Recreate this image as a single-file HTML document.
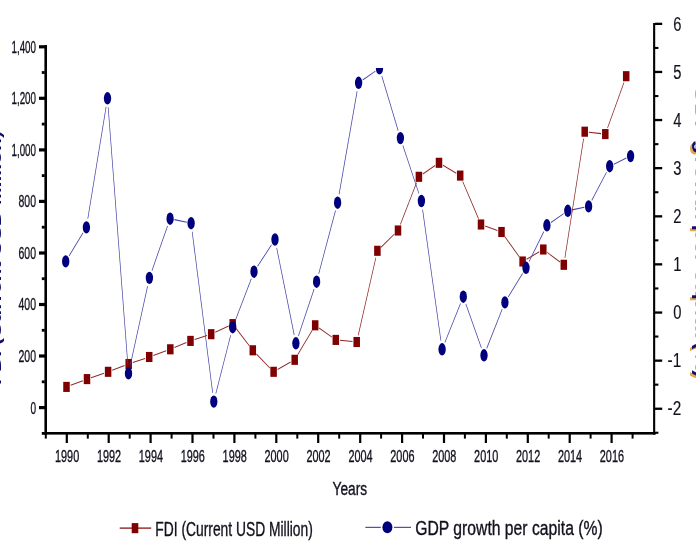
<!DOCTYPE html>
<html lang="en"><head><meta charset="utf-8"><title>FDI and GDP growth per capita</title>
<style>
html,body{margin:0;padding:0;background:#fff;}
body{width:696px;height:552px;overflow:hidden;position:relative;font-family:"Liberation Sans",sans-serif;}
svg text{font-family:"Liberation Sans",sans-serif;}
</style></head><body>
<svg width="696" height="552" viewBox="0 0 696 552" style="position:absolute;left:0;top:0;font-family:'Liberation Sans',sans-serif">
<defs><filter id="bl" x="-5%" y="-5%" width="110%" height="110%"><feGaussianBlur stdDeviation="0.6 0.1"/></filter><clipPath id="cp"><rect x="46" y="68" width="609" height="366"/></clipPath></defs>
<g clip-path="url(#cp)">
<g transform="scale(0.65,1)" filter="url(#bl)">
<line x1="108.62" y1="385.34" x2="127.53" y2="380.66" stroke="#8a2424" stroke-width="1.05"/>
<line x1="140.18" y1="377.67" x2="159.97" y2="373.23" stroke="#8a2424" stroke-width="1.05"/>
<line x1="172.62" y1="370.25" x2="191.69" y2="365.55" stroke="#8a2424" stroke-width="1.05"/>
<line x1="204.34" y1="362.59" x2="223.20" y2="358.41" stroke="#8a2424" stroke-width="1.05"/>
<line x1="235.86" y1="355.50" x2="255.68" y2="350.80" stroke="#8a2424" stroke-width="1.05"/>
<line x1="268.28" y1="347.60" x2="286.79" y2="342.60" stroke="#8a2424" stroke-width="1.05"/>
<line x1="299.43" y1="339.56" x2="318.57" y2="335.54" stroke="#8a2424" stroke-width="1.05"/>
<line x1="331.16" y1="332.30" x2="351.76" y2="326.00" stroke="#8a2424" stroke-width="1.05"/>
<line x1="363.17" y1="328.48" x2="383.75" y2="345.92" stroke="#8a2424" stroke-width="1.05"/>
<line x1="394.48" y1="354.03" x2="415.37" y2="368.07" stroke="#8a2424" stroke-width="1.05"/>
<line x1="427.06" y1="369.53" x2="447.24" y2="362.07" stroke="#8a2424" stroke-width="1.05"/>
<line x1="458.03" y1="354.72" x2="480.28" y2="330.38" stroke="#8a2424" stroke-width="1.05"/>
<line x1="490.91" y1="328.06" x2="510.63" y2="337.14" stroke="#8a2424" stroke-width="1.05"/>
<line x1="523.07" y1="340.32" x2="542.32" y2="341.58" stroke="#8a2424" stroke-width="1.05"/>
<line x1="551.14" y1="335.21" x2="578.24" y2="257.59" stroke="#8a2424" stroke-width="1.05"/>
<line x1="586.24" y1="247.20" x2="606.69" y2="234.10" stroke="#8a2424" stroke-width="1.05"/>
<line x1="615.93" y1="224.45" x2="640.84" y2="182.85" stroke="#8a2424" stroke-width="1.05"/>
<line x1="650.46" y1="174.08" x2="669.39" y2="165.52" stroke="#8a2424" stroke-width="1.05"/>
<line x1="681.49" y1="165.20" x2="701.90" y2="173.20" stroke="#8a2424" stroke-width="1.05"/>
<line x1="711.84" y1="181.47" x2="736.16" y2="218.63" stroke="#8a2424" stroke-width="1.05"/>
<line x1="746.32" y1="226.00" x2="765.22" y2="230.50" stroke="#8a2424" stroke-width="1.05"/>
<line x1="776.57" y1="236.58" x2="798.97" y2="256.92" stroke="#8a2424" stroke-width="1.05"/>
<line x1="810.13" y1="259.19" x2="829.72" y2="251.81" stroke="#8a2424" stroke-width="1.05"/>
<line x1="841.78" y1="252.38" x2="861.45" y2="261.92" stroke="#8a2424" stroke-width="1.05"/>
<line x1="869.09" y1="257.76" x2="897.84" y2="138.74" stroke="#8a2424" stroke-width="1.05"/>
<line x1="905.99" y1="132.19" x2="924.78" y2="133.61" stroke="#8a2424" stroke-width="1.05"/>
<line x1="934.66" y1="127.92" x2="959.95" y2="82.38" stroke="#8a2424" stroke-width="1.05"/>
</g>
<rect x="63.25" y="381.85" width="6.5" height="10.1" fill="#7f0000"/>
<rect x="83.75" y="374.05" width="6.5" height="10.1" fill="#7f0000"/>
<rect x="104.85" y="366.75" width="6.5" height="10.1" fill="#7f0000"/>
<rect x="125.45" y="358.95" width="6.5" height="10.1" fill="#7f0000"/>
<rect x="145.95" y="351.95" width="6.5" height="10.1" fill="#7f0000"/>
<rect x="167.05" y="344.25" width="6.5" height="10.1" fill="#7f0000"/>
<rect x="187.25" y="335.85" width="6.5" height="10.1" fill="#7f0000"/>
<rect x="207.95" y="329.15" width="6.5" height="10.1" fill="#7f0000"/>
<rect x="229.45" y="319.05" width="6.5" height="10.1" fill="#7f0000"/>
<rect x="249.55" y="345.25" width="6.5" height="10.1" fill="#7f0000"/>
<rect x="270.35" y="366.75" width="6.5" height="10.1" fill="#7f0000"/>
<rect x="291.45" y="354.75" width="6.5" height="10.1" fill="#7f0000"/>
<rect x="311.95" y="320.25" width="6.5" height="10.1" fill="#7f0000"/>
<rect x="332.55" y="334.85" width="6.5" height="10.1" fill="#7f0000"/>
<rect x="353.45" y="336.95" width="6.5" height="10.1" fill="#7f0000"/>
<rect x="374.15" y="245.75" width="6.5" height="10.1" fill="#7f0000"/>
<rect x="394.75" y="225.45" width="6.5" height="10.1" fill="#7f0000"/>
<rect x="415.65" y="171.75" width="6.5" height="10.1" fill="#7f0000"/>
<rect x="435.75" y="157.75" width="6.5" height="10.1" fill="#7f0000"/>
<rect x="456.95" y="170.55" width="6.5" height="10.1" fill="#7f0000"/>
<rect x="477.75" y="219.45" width="6.5" height="10.1" fill="#7f0000"/>
<rect x="498.25" y="226.95" width="6.5" height="10.1" fill="#7f0000"/>
<rect x="519.35" y="256.45" width="6.5" height="10.1" fill="#7f0000"/>
<rect x="540.05" y="244.45" width="6.5" height="10.1" fill="#7f0000"/>
<rect x="560.55" y="259.75" width="6.5" height="10.1" fill="#7f0000"/>
<rect x="581.45" y="126.65" width="6.5" height="10.1" fill="#7f0000"/>
<rect x="602.05" y="129.05" width="6.5" height="10.1" fill="#7f0000"/>
<rect x="622.95" y="71.15" width="6.5" height="10.1" fill="#7f0000"/>
<g transform="scale(0.65,1)" filter="url(#bl)">
<line x1="106.28" y1="255.84" x2="127.72" y2="232.96" stroke="#4040a6" stroke-width="1.05"/>
<line x1="135.06" y1="218.88" x2="163.24" y2="106.82" stroke="#4040a6" stroke-width="1.05"/>
<line x1="166.43" y1="107.19" x2="196.65" y2="364.51" stroke="#4040a6" stroke-width="1.05"/>
<line x1="200.45" y1="365.22" x2="227.09" y2="286.08" stroke="#4040a6" stroke-width="1.05"/>
<line x1="233.75" y1="270.64" x2="257.79" y2="225.96" stroke="#4040a6" stroke-width="1.05"/>
<line x1="268.27" y1="219.62" x2="287.42" y2="222.28" stroke="#4040a6" stroke-width="1.05"/>
<line x1="295.70" y1="231.90" x2="327.22" y2="392.90" stroke="#4040a6" stroke-width="1.05"/>
<line x1="332.03" y1="393.65" x2="354.89" y2="335.15" stroke="#4040a6" stroke-width="1.05"/>
<line x1="362.14" y1="320.18" x2="386.63" y2="278.72" stroke="#4040a6" stroke-width="1.05"/>
<line x1="396.11" y1="266.38" x2="417.74" y2="244.82" stroke="#4040a6" stroke-width="1.05"/>
<line x1="425.65" y1="247.79" x2="452.66" y2="335.01" stroke="#4040a6" stroke-width="1.05"/>
<line x1="459.04" y1="335.94" x2="483.27" y2="289.06" stroke="#4040a6" stroke-width="1.05"/>
<line x1="490.29" y1="273.84" x2="516.17" y2="210.56" stroke="#4040a6" stroke-width="1.05"/>
<line x1="521.66" y1="194.25" x2="549.42" y2="91.25" stroke="#4040a6" stroke-width="1.05"/>
<line x1="557.97" y1="79.97" x2="577.57" y2="71.13" stroke="#4040a6" stroke-width="1.05"/>
<line x1="587.36" y1="75.93" x2="612.49" y2="130.47" stroke="#4040a6" stroke-width="1.05"/>
<line x1="619.79" y1="145.48" x2="644.52" y2="193.62" stroke="#4040a6" stroke-width="1.05"/>
<line x1="650.16" y1="209.64" x2="678.30" y2="340.66" stroke="#4040a6" stroke-width="1.05"/>
<line x1="684.42" y1="342.42" x2="708.50" y2="303.58" stroke="#4040a6" stroke-width="1.05"/>
<line x1="716.70" y1="303.94" x2="740.68" y2="348.06" stroke="#4040a6" stroke-width="1.05"/>
<line x1="748.83" y1="348.36" x2="772.55" y2="309.34" stroke="#4040a6" stroke-width="1.05"/>
<line x1="781.98" y1="296.85" x2="804.02" y2="273.35" stroke="#4040a6" stroke-width="1.05"/>
<line x1="813.98" y1="261.53" x2="836.64" y2="231.57" stroke="#4040a6" stroke-width="1.05"/>
<line x1="847.66" y1="222.47" x2="867.26" y2="213.63" stroke="#4040a6" stroke-width="1.05"/>
<line x1="880.12" y1="209.89" x2="898.96" y2="207.31" stroke="#4040a6" stroke-width="1.05"/>
<line x1="910.43" y1="200.34" x2="933.11" y2="172.26" stroke="#4040a6" stroke-width="1.05"/>
<line x1="944.45" y1="164.18" x2="963.71" y2="158.12" stroke="#4040a6" stroke-width="1.05"/>
</g>
<ellipse cx="65.7" cy="261.4" rx="3.65" ry="6.2" fill="#00007f"/>
<ellipse cx="86.4" cy="227.4" rx="3.65" ry="6.2" fill="#00007f"/>
<ellipse cx="107.5" cy="98.3" rx="3.65" ry="6.2" fill="#00007f"/>
<ellipse cx="128.5" cy="373.4" rx="3.65" ry="6.2" fill="#00007f"/>
<ellipse cx="149.4" cy="277.9" rx="3.65" ry="6.2" fill="#00007f"/>
<ellipse cx="170.1" cy="218.7" rx="3.65" ry="6.2" fill="#00007f"/>
<ellipse cx="191.1" cy="223.2" rx="3.65" ry="6.2" fill="#00007f"/>
<ellipse cx="213.8" cy="401.6" rx="3.65" ry="6.2" fill="#00007f"/>
<ellipse cx="232.7" cy="327.2" rx="3.65" ry="6.2" fill="#00007f"/>
<ellipse cx="254.0" cy="271.7" rx="3.65" ry="6.2" fill="#00007f"/>
<ellipse cx="275.0" cy="239.5" rx="3.65" ry="6.2" fill="#00007f"/>
<ellipse cx="295.9" cy="343.3" rx="3.65" ry="6.2" fill="#00007f"/>
<ellipse cx="316.6" cy="281.7" rx="3.65" ry="6.2" fill="#00007f"/>
<ellipse cx="337.6" cy="202.7" rx="3.65" ry="6.2" fill="#00007f"/>
<ellipse cx="358.6" cy="82.8" rx="3.65" ry="6.2" fill="#00007f"/>
<ellipse cx="379.5" cy="68.3" rx="3.65" ry="6.2" fill="#00007f"/>
<ellipse cx="400.4" cy="138.1" rx="3.65" ry="6.2" fill="#00007f"/>
<ellipse cx="421.4" cy="201.0" rx="3.65" ry="6.2" fill="#00007f"/>
<ellipse cx="442.1" cy="349.3" rx="3.65" ry="6.2" fill="#00007f"/>
<ellipse cx="463.3" cy="296.7" rx="3.65" ry="6.2" fill="#00007f"/>
<ellipse cx="484.0" cy="355.3" rx="3.65" ry="6.2" fill="#00007f"/>
<ellipse cx="504.9" cy="302.4" rx="3.65" ry="6.2" fill="#00007f"/>
<ellipse cx="526.0" cy="267.8" rx="3.65" ry="6.2" fill="#00007f"/>
<ellipse cx="546.9" cy="225.3" rx="3.65" ry="6.2" fill="#00007f"/>
<ellipse cx="567.8" cy="210.8" rx="3.65" ry="6.2" fill="#00007f"/>
<ellipse cx="588.6" cy="206.4" rx="3.65" ry="6.2" fill="#00007f"/>
<ellipse cx="609.7" cy="166.2" rx="3.65" ry="6.2" fill="#00007f"/>
<ellipse cx="630.6" cy="156.1" rx="3.65" ry="6.2" fill="#00007f"/>
</g>
<rect x="44.4" y="45" width="2.6" height="389.6" fill="#000"/>
<rect x="44.4" y="432" width="611.2" height="2.6" fill="#000"/>
<rect x="653.1" y="23" width="2.1" height="411.6" fill="#000"/>
<rect x="39" y="406.0" width="6" height="3.2" fill="#000"/>
<rect x="39" y="354.4" width="6" height="3.2" fill="#000"/>
<rect x="39" y="302.9" width="6" height="3.2" fill="#000"/>
<rect x="39" y="251.4" width="6" height="3.2" fill="#000"/>
<rect x="39" y="199.8" width="6" height="3.2" fill="#000"/>
<rect x="39" y="148.3" width="6" height="3.2" fill="#000"/>
<rect x="39" y="96.7" width="6" height="3.2" fill="#000"/>
<rect x="39" y="45.2" width="6" height="3.2" fill="#000"/>
<rect x="41.8" y="432.0" width="3" height="2.8" fill="#000"/>
<rect x="41.8" y="380.4" width="3" height="2.8" fill="#000"/>
<rect x="41.8" y="328.9" width="3" height="2.8" fill="#000"/>
<rect x="41.8" y="277.3" width="3" height="2.8" fill="#000"/>
<rect x="41.8" y="225.8" width="3" height="2.8" fill="#000"/>
<rect x="41.8" y="174.2" width="3" height="2.8" fill="#000"/>
<rect x="41.8" y="122.7" width="3" height="2.8" fill="#000"/>
<rect x="41.8" y="71.1" width="3" height="2.8" fill="#000"/>
<rect x="655" y="407.6" width="7.2" height="2.3" fill="#000"/>
<rect x="655" y="359.5" width="7.2" height="2.3" fill="#000"/>
<rect x="655" y="311.4" width="7.2" height="2.3" fill="#000"/>
<rect x="655" y="263.2" width="7.2" height="2.3" fill="#000"/>
<rect x="655" y="215.2" width="7.2" height="2.3" fill="#000"/>
<rect x="655" y="167.0" width="7.2" height="2.3" fill="#000"/>
<rect x="655" y="118.9" width="7.2" height="2.3" fill="#000"/>
<rect x="655" y="70.8" width="7.2" height="2.3" fill="#000"/>
<rect x="655" y="22.7" width="7.2" height="2.3" fill="#000"/>
<rect x="655" y="431.7" width="3.4" height="2.1" fill="#000"/>
<rect x="655" y="383.6" width="3.4" height="2.1" fill="#000"/>
<rect x="655" y="335.5" width="3.4" height="2.1" fill="#000"/>
<rect x="655" y="287.4" width="3.4" height="2.1" fill="#000"/>
<rect x="655" y="239.3" width="3.4" height="2.1" fill="#000"/>
<rect x="655" y="191.2" width="3.4" height="2.1" fill="#000"/>
<rect x="655" y="143.1" width="3.4" height="2.1" fill="#000"/>
<rect x="655" y="95.0" width="3.4" height="2.1" fill="#000"/>
<rect x="655" y="46.9" width="3.4" height="2.1" fill="#000"/>
<rect x="44.8" y="434" width="2" height="4.6" fill="#000"/>
<rect x="65.7" y="434" width="2.2" height="9" fill="#000"/>
<rect x="86.8" y="434" width="2" height="4.6" fill="#000"/>
<rect x="107.6" y="434" width="2.2" height="9" fill="#000"/>
<rect x="128.7" y="434" width="2" height="4.6" fill="#000"/>
<rect x="149.5" y="434" width="2.2" height="9" fill="#000"/>
<rect x="170.6" y="434" width="2" height="4.6" fill="#000"/>
<rect x="191.4" y="434" width="2.2" height="9" fill="#000"/>
<rect x="212.5" y="434" width="2" height="4.6" fill="#000"/>
<rect x="233.3" y="434" width="2.2" height="9" fill="#000"/>
<rect x="254.4" y="434" width="2" height="4.6" fill="#000"/>
<rect x="275.2" y="434" width="2.2" height="9" fill="#000"/>
<rect x="296.3" y="434" width="2" height="4.6" fill="#000"/>
<rect x="317.1" y="434" width="2.2" height="9" fill="#000"/>
<rect x="338.2" y="434" width="2" height="4.6" fill="#000"/>
<rect x="359.1" y="434" width="2.2" height="9" fill="#000"/>
<rect x="380.1" y="434" width="2" height="4.6" fill="#000"/>
<rect x="401.0" y="434" width="2.2" height="9" fill="#000"/>
<rect x="422.0" y="434" width="2" height="4.6" fill="#000"/>
<rect x="442.9" y="434" width="2.2" height="9" fill="#000"/>
<rect x="463.9" y="434" width="2" height="4.6" fill="#000"/>
<rect x="484.8" y="434" width="2.2" height="9" fill="#000"/>
<rect x="505.8" y="434" width="2" height="4.6" fill="#000"/>
<rect x="526.7" y="434" width="2.2" height="9" fill="#000"/>
<rect x="547.7" y="434" width="2" height="4.6" fill="#000"/>
<rect x="568.6" y="434" width="2.2" height="9" fill="#000"/>
<rect x="589.6" y="434" width="2" height="4.6" fill="#000"/>
<rect x="610.5" y="434" width="2.2" height="9" fill="#000"/>
<rect x="631.6" y="434" width="2" height="4.6" fill="#000"/>
<text x="36" y="413.5" font-size="17" textLength="5.6" lengthAdjust="spacingAndGlyphs" text-anchor="end" fill="#12121f" stroke="#12121f" stroke-width="0.35" >0</text>
<text x="36" y="361.9" font-size="17" textLength="17.5" lengthAdjust="spacingAndGlyphs" text-anchor="end" fill="#12121f" stroke="#12121f" stroke-width="0.35" >200</text>
<text x="36" y="310.4" font-size="17" textLength="17.5" lengthAdjust="spacingAndGlyphs" text-anchor="end" fill="#12121f" stroke="#12121f" stroke-width="0.35" >400</text>
<text x="36" y="258.9" font-size="17" textLength="17.5" lengthAdjust="spacingAndGlyphs" text-anchor="end" fill="#12121f" stroke="#12121f" stroke-width="0.35" >600</text>
<text x="36" y="207.3" font-size="17" textLength="17.5" lengthAdjust="spacingAndGlyphs" text-anchor="end" fill="#12121f" stroke="#12121f" stroke-width="0.35" >800</text>
<text x="36" y="155.8" font-size="17" textLength="24.5" lengthAdjust="spacingAndGlyphs" text-anchor="end" fill="#12121f" stroke="#12121f" stroke-width="0.35" >1,000</text>
<text x="36" y="104.2" font-size="17" textLength="24.5" lengthAdjust="spacingAndGlyphs" text-anchor="end" fill="#12121f" stroke="#12121f" stroke-width="0.35" >1,200</text>
<text x="36" y="52.7" font-size="17" textLength="24.5" lengthAdjust="spacingAndGlyphs" text-anchor="end" fill="#12121f" stroke="#12121f" stroke-width="0.35" >1,400</text>
<text x="667.5" y="415.4" font-size="19.4" textLength="13.7" lengthAdjust="spacingAndGlyphs" text-anchor="start" fill="#12121f" stroke="#12121f" stroke-width="0.15" >-2</text>
<text x="667.5" y="367.3" font-size="19.4" textLength="13.7" lengthAdjust="spacingAndGlyphs" text-anchor="start" fill="#12121f" stroke="#12121f" stroke-width="0.15" >-1</text>
<text x="673.3" y="319.2" font-size="19.4" textLength="8.2" lengthAdjust="spacingAndGlyphs" text-anchor="start" fill="#12121f" stroke="#12121f" stroke-width="0.15" >0</text>
<text x="673.3" y="271.1" font-size="19.4" textLength="8.2" lengthAdjust="spacingAndGlyphs" text-anchor="start" fill="#12121f" stroke="#12121f" stroke-width="0.15" >1</text>
<text x="673.3" y="223.0" font-size="19.4" textLength="8.2" lengthAdjust="spacingAndGlyphs" text-anchor="start" fill="#12121f" stroke="#12121f" stroke-width="0.15" >2</text>
<text x="673.3" y="174.9" font-size="19.4" textLength="8.2" lengthAdjust="spacingAndGlyphs" text-anchor="start" fill="#12121f" stroke="#12121f" stroke-width="0.15" >3</text>
<text x="673.3" y="126.8" font-size="19.4" textLength="8.2" lengthAdjust="spacingAndGlyphs" text-anchor="start" fill="#12121f" stroke="#12121f" stroke-width="0.15" >4</text>
<text x="673.3" y="78.7" font-size="19.4" textLength="8.2" lengthAdjust="spacingAndGlyphs" text-anchor="start" fill="#12121f" stroke="#12121f" stroke-width="0.15" >5</text>
<text x="673.3" y="30.6" font-size="19.4" textLength="8.2" lengthAdjust="spacingAndGlyphs" text-anchor="start" fill="#12121f" stroke="#12121f" stroke-width="0.15" >6</text>
<text x="67.1" y="461.6" font-size="17" textLength="24.2" lengthAdjust="spacingAndGlyphs" text-anchor="middle" fill="#12121f" stroke="#12121f" stroke-width="0.35" >1990</text>
<text x="109.0" y="461.6" font-size="17" textLength="24.2" lengthAdjust="spacingAndGlyphs" text-anchor="middle" fill="#12121f" stroke="#12121f" stroke-width="0.35" >1992</text>
<text x="150.9" y="461.6" font-size="17" textLength="24.2" lengthAdjust="spacingAndGlyphs" text-anchor="middle" fill="#12121f" stroke="#12121f" stroke-width="0.35" >1994</text>
<text x="192.8" y="461.6" font-size="17" textLength="24.2" lengthAdjust="spacingAndGlyphs" text-anchor="middle" fill="#12121f" stroke="#12121f" stroke-width="0.35" >1996</text>
<text x="234.7" y="461.6" font-size="17" textLength="24.2" lengthAdjust="spacingAndGlyphs" text-anchor="middle" fill="#12121f" stroke="#12121f" stroke-width="0.35" >1998</text>
<text x="276.6" y="461.6" font-size="17" textLength="24.2" lengthAdjust="spacingAndGlyphs" text-anchor="middle" fill="#12121f" stroke="#12121f" stroke-width="0.35" >2000</text>
<text x="318.5" y="461.6" font-size="17" textLength="24.2" lengthAdjust="spacingAndGlyphs" text-anchor="middle" fill="#12121f" stroke="#12121f" stroke-width="0.35" >2002</text>
<text x="360.5" y="461.6" font-size="17" textLength="24.2" lengthAdjust="spacingAndGlyphs" text-anchor="middle" fill="#12121f" stroke="#12121f" stroke-width="0.35" >2004</text>
<text x="402.4" y="461.6" font-size="17" textLength="24.2" lengthAdjust="spacingAndGlyphs" text-anchor="middle" fill="#12121f" stroke="#12121f" stroke-width="0.35" >2006</text>
<text x="444.3" y="461.6" font-size="17" textLength="24.2" lengthAdjust="spacingAndGlyphs" text-anchor="middle" fill="#12121f" stroke="#12121f" stroke-width="0.35" >2008</text>
<text x="486.2" y="461.6" font-size="17" textLength="24.2" lengthAdjust="spacingAndGlyphs" text-anchor="middle" fill="#12121f" stroke="#12121f" stroke-width="0.35" >2010</text>
<text x="528.1" y="461.6" font-size="17" textLength="24.2" lengthAdjust="spacingAndGlyphs" text-anchor="middle" fill="#12121f" stroke="#12121f" stroke-width="0.35" >2012</text>
<text x="570.0" y="461.6" font-size="17" textLength="24.2" lengthAdjust="spacingAndGlyphs" text-anchor="middle" fill="#12121f" stroke="#12121f" stroke-width="0.35" >2014</text>
<text x="611.9" y="461.6" font-size="17" textLength="24.2" lengthAdjust="spacingAndGlyphs" text-anchor="middle" fill="#12121f" stroke="#12121f" stroke-width="0.35" >2016</text>
<text x="332.5" y="495.3" font-size="18" textLength="34.6" lengthAdjust="spacingAndGlyphs" text-anchor="start" fill="#12121f" stroke="#12121f" stroke-width="0.35" >Years</text>
<text x="155.3" y="535.9" font-size="19.5" textLength="157.5" lengthAdjust="spacingAndGlyphs" text-anchor="start" fill="#12121f" stroke="#12121f" stroke-width="0.35" >FDI (Current USD Million)</text>
<text x="415.2" y="534.5" font-size="19.5" textLength="187.5" lengthAdjust="spacingAndGlyphs" text-anchor="start" fill="#12121f" stroke="#12121f" stroke-width="0.35" >GDP growth per capita (%)</text>
<text transform="translate(1.3,385) rotate(-90) scale(1,0.7)" font-size="21.5" font-weight="bold" text-anchor="start" fill="#10106a" textLength="254" lengthAdjust="spacingAndGlyphs">FDI (Current USD Million)</text>
<text transform="translate(694.8,85) rotate(90) scale(1,1.05)" font-size="23.4" font-weight="bold" text-anchor="start" fill="#e6a550" textLength="295" lengthAdjust="spacingAndGlyphs">GDP growth per capita (%)</text>
<text transform="translate(696.6,83) rotate(90) scale(1,1.05)" font-size="23.4" font-weight="bold" text-anchor="start" fill="#10106a" textLength="295" lengthAdjust="spacingAndGlyphs">GDP growth per capita (%)</text>
<rect x="119.7" y="527.5" width="31.5" height="1.2" fill="#7f0000"/>
<rect x="131.7" y="523.1" width="6.6" height="10.1" fill="#7f0000"/>
<rect x="365.3" y="526.8" width="15.5" height="1.1" fill="#4040a6"/>
<rect x="394" y="526.8" width="17" height="1.1" fill="#4040a6"/>
<ellipse cx="387.4" cy="527.3" rx="5" ry="6" fill="#00007f"/>
</svg>
</body></html>
